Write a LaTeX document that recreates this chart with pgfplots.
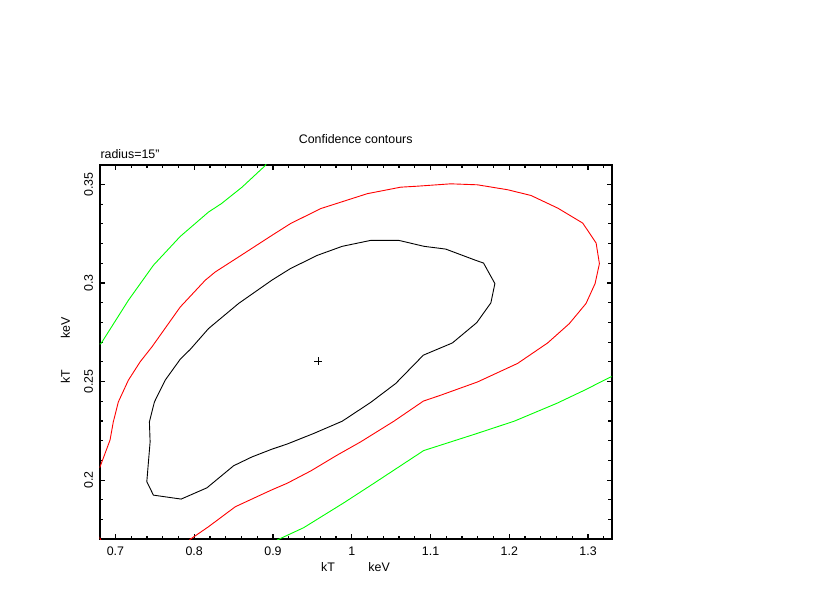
\documentclass[border=0pt]{standalone}
\usepackage{fontspec}
\setmainfont{Liberation Sans}
\usepackage{pgfplots}
\pgfplotsset{compat=1.18}

\begin{document}
\begin{tikzpicture}[font=\fontsize{6.2}{7.5}\selectfont]
\begin{axis}[
  name=ax,
  scale only axis,
  width=256pt, height=187.3pt,
  xmin=0.68, xmax=1.33,
  ymin=0.17, ymax=0.36,
  xtick={0.7,0.8,0.9,1,1.1,1.2,1.3},
  ytick={0.2,0.25,0.3,0.35},
  minor xtick={0.72,0.74,0.76,0.78,0.82,0.84,0.86,0.88,0.92,0.94,0.96,0.98,1.02,1.04,1.06,1.08,1.12,1.14,1.16,1.18,1.22,1.24,1.26,1.28,1.32},
  minor ytick={0.18,0.19,0.21,0.22,0.23,0.24,0.26,0.27,0.28,0.29,0.31,0.32,0.33,0.34},
  tick align=inside,
  major tick length=2.6pt,
  minor tick length=1.7pt,
  every tick/.style={black, line width=0.6pt},
  axis line style={line width=0.9pt},
  /pgf/number format/assume math mode=true,
  xticklabel style={anchor=north, inner sep=3.6pt},
  yticklabel style={rotate=90, anchor=south, inner sep=3.2pt},
  clip=true,
]
% outer 3-sigma contour (green), two branches
\addplot[green, line width=0.45pt] coordinates {
  (0.6800,0.2690) (0.6817,0.2693) (0.7164,0.2912) (0.7482,0.3090) (0.7822,0.3236)
  (0.8182,0.3360) (0.8343,0.3402) (0.8607,0.3486) (0.8903,0.3596) (0.8920,0.3610)
};
\addplot[green, line width=0.45pt] coordinates {
  (0.9040,0.1690) (0.9056,0.1697) (0.9390,0.1759) (0.9899,0.1885) (1.0281,0.1984)
  (1.0913,0.2150) (1.1553,0.2232) (1.2062,0.2299) (1.2605,0.2390) (1.2953,0.2456)
  (1.3314,0.2529)
};
% 2-sigma contour (red)
\addplot[red, line width=0.45pt] coordinates {
  (0.6800,0.2063) (0.6931,0.2203) (0.6973,0.2296) (0.7037,0.2397) (0.7164,0.2507)
  (0.7313,0.2600) (0.7465,0.2677) (0.7822,0.2878) (0.8140,0.3014) (0.8267,0.3056)
  (0.8563,0.3132) (0.8992,0.3243) (0.9221,0.3301) (0.9603,0.3377) (1.0197,0.3453)
  (1.0621,0.3486) (1.0833,0.3491) (1.1257,0.3503) (1.1596,0.3498) (1.1978,0.3473)
  (1.2275,0.3444) (1.2614,0.3380) (1.2932,0.3304) (1.3102,0.3203) (1.3144,0.3098)
  (1.3089,0.2997) (1.2974,0.2896) (1.2762,0.2794) (1.2487,0.2696) (1.2105,0.2592)
  (1.1596,0.2498) (1.1130,0.2431) (1.0909,0.2401) (1.0535,0.2299) (1.0112,0.2194)
  (0.9815,0.2127) (0.9476,0.2046) (0.9179,0.1984) (0.8992,0.1952) (0.8861,0.1928)
  (0.8521,0.1865) (0.8182,0.1764) (0.7949,0.1700) (0.7930,0.1690)
};
\addplot[red, line width=0.45pt] coordinates {(0.6795,0.1712) (0.6815,0.1695)};
% 1-sigma contour (black)
\addplot[black, line width=0.45pt] coordinates {
  (0.7949,0.2663) (0.8182,0.2769) (0.8563,0.2896) (0.8992,0.3016) (0.9221,0.3073)
  (0.9561,0.3140) (0.9879,0.3186) (1.0239,0.3216) (1.0599,0.3216) (1.0917,0.3186)
  (1.1193,0.3172) (1.1553,0.3118) (1.1673,0.3101) (1.1817,0.2997) (1.1766,0.2899)
  (1.1587,0.2799) (1.1278,0.2696) (1.0909,0.2634) (1.0557,0.2490) (1.0239,0.2394)
  (0.9879,0.2299) (0.9518,0.2237) (0.9179,0.2183) (0.8992,0.2158) (0.8734,0.2118)
  (0.8500,0.2073) (0.8161,0.1961) (0.7834,0.1904) (0.7482,0.1924) (0.7398,0.1992)
  (0.7440,0.2194) (0.7431,0.2296) (0.7495,0.2397) (0.7631,0.2507) (0.7822,0.2613)
  (0.7949,0.2663)
};
% best fit
\addplot[black, only marks, mark=+, mark size=2.1pt, mark options={line width=0.4pt}]
  coordinates {(0.9574,0.2603)};
\end{axis}
\node[anchor=base] at ([shift={(128pt,10.35pt)}]ax.north west) {Confidence contours};
\node[anchor=base west, inner sep=0pt] at ([shift={(0.2pt,2.85pt)}]ax.north west) {radius=15"};
\node[anchor=base] at ([shift={(114.2pt,-15.85pt)}]ax.south west) {kT};
\node[anchor=base] at ([shift={(139.7pt,-15.85pt)}]ax.south west) {keV};
\node[anchor=base, rotate=90] at ([shift={(-14.9pt,81.3pt)}]ax.south west) {kT};
\node[anchor=base, rotate=90] at ([shift={(-14.9pt,105.5pt)}]ax.south west) {keV};
\pgfresetboundingbox
\path[use as bounding box] ([shift={(-49.85pt,-24.85pt)}]ax.south west) rectangle ++(415pt,294.5pt);
\end{tikzpicture}
\end{document}
